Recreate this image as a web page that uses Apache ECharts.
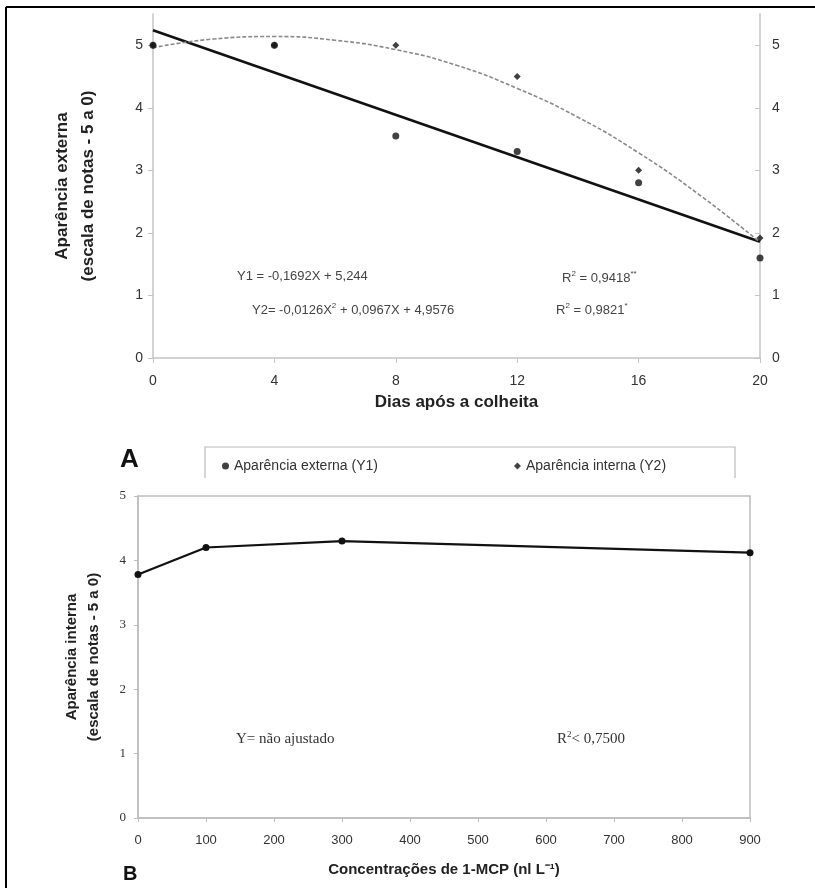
<!DOCTYPE html>
<html>
<head>
<meta charset="utf-8">
<script src="https://cdn.jsdelivr.net/npm/echarts@6/dist/echarts.min.js"></script>
<style>html,body{margin:0;padding:0;background:#fff;}#c{width:815px;height:888px;}</style>
</head>
<body>
<div id="c"></div>
<script>
// ---- Data (panel A) ----
const days = [0, 4, 8, 12, 16, 20];
const y1External = [5, 5, 3.55, 3.3, 2.8, 1.6];
const y2Internal = [5, 5, 5, 4.5, 3.0, 1.92];
const y1FitDays = [0, 20];
const y1FitValues = [5.24, 1.86];
const y2FitDays = [0, 2, 4, 6, 8, 10, 12, 14, 16, 18, 20];
const y2FitValues = [4.96, 5.10, 5.14, 5.08, 4.93, 4.68, 4.31, 3.85, 3.28, 2.61, 1.85];
const topYTicks = [0, 1, 2, 3, 4, 5];
// ---- Data (panel B) ----
const concentrations = [0, 100, 300, 900];
const internalAppearance = [3.78, 4.2, 4.3, 4.12];

const pair = (xs, ys) => xs.map((x, i) => [x, ys[i]]);
const sans = 'Liberation Sans, Arial, sans-serif';
const serif = 'Liberation Serif, Times New Roman, serif';
const narrow = 'Liberation Sans Narrow, Arial Narrow, Liberation Sans, sans-serif';

const chart = echarts.init(document.getElementById('c'), null, {renderer: 'canvas'});
const option = {
  animation: false,
  backgroundColor: '#fff',
  grid: [
    {left: 153, right: 55, top: 14, height: 344},
    {left: 138, right: 65, top: 496, height: 322, show: true, borderColor: '#bdbdbd', borderWidth: 1.5}
  ],
  legend: {
    left: 217, top: 454, itemGap: 136, itemWidth: 7, itemHeight: 7,
    textStyle: {fontFamily: sans, fontSize: 14, color: '#333'},
    data: [
      {name: 'Aparência externa (Y1)', icon: 'circle'},
      {name: 'Aparência interna (Y2)', icon: 'diamond'}
    ]
  },
  xAxis: [
    {
      gridIndex: 0, type: 'value', min: 0, max: 20, interval: 4,
      name: 'Dias após a colheita', nameLocation: 'middle', nameGap: 36,
      nameTextStyle: {fontFamily: sans, fontWeight: 'bold', fontSize: 17, color: '#222'},
      axisLine: {show: true, onZero: false, lineStyle: {color: '#c4c4c4', width: 1.5}},
      axisTick: {show: true, length: 5, lineStyle: {color: '#c4c4c4'}},
      axisLabel: {fontFamily: sans, fontSize: 14, color: '#333', margin: 16},
      splitLine: {show: false}
    },
    {
      gridIndex: 1, type: 'value', min: 0, max: 900, interval: 100,
      name: 'Concentrações de 1-MCP (nl L⁻¹)', nameLocation: 'middle', nameGap: 44,
      nameTextStyle: {fontFamily: narrow, fontWeight: 'bold', fontSize: 15, color: '#222'},
      axisLine: {show: true, onZero: false, lineStyle: {color: '#bdbdbd', width: 1.5}},
      axisTick: {show: true, length: 4, lineStyle: {color: '#bdbdbd'}},
      axisLabel: {fontFamily: narrow, fontSize: 13, color: '#333', margin: 16},
      splitLine: {show: false}
    }
  ],
  yAxis: [
    {
      gridIndex: 0, type: 'value', min: 0, max: 5.5, interval: 1,
      name: 'Aparência externa\n(escala de notas - 5 a 0)', nameLocation: 'middle', nameGap: 52,
      nameTextStyle: {fontFamily: sans, fontWeight: 'bold', fontSize: 17, color: '#222', lineHeight: 26},
      axisLine: {show: true, lineStyle: {color: '#c4c4c4', width: 1.5}},
      axisTick: {show: true, length: 5, lineStyle: {color: '#c4c4c4'}},
      axisLabel: {fontFamily: sans, fontSize: 14, color: '#333', margin: 10, showMaxLabel: false,
        formatter: v => topYTicks.includes(v) ? String(v) : ''},
      splitLine: {show: false}
    },
    {
      gridIndex: 0, type: 'value', min: 0, max: 5.5, interval: 1, position: 'right',
      axisLine: {show: true, lineStyle: {color: '#c4c4c4', width: 1.5}},
      axisTick: {show: true, length: 5, inside: true, lineStyle: {color: '#c4c4c4'}},
      axisLabel: {fontFamily: sans, fontSize: 14, color: '#333', margin: 12, showMaxLabel: false,
        formatter: v => topYTicks.includes(v) ? String(v) : ''},
      splitLine: {show: false}
    },
    {
      gridIndex: 1, type: 'value', min: 0, max: 5, interval: 1,
      name: 'Aparência interna\n(escala de notas - 5 a 0)', nameLocation: 'middle', nameGap: 33,
      nameTextStyle: {fontFamily: narrow, fontWeight: 'bold', fontSize: 15, color: '#222', lineHeight: 22},
      axisLine: {show: true, lineStyle: {color: '#bdbdbd', width: 1.5}},
      axisTick: {show: true, length: 4, lineStyle: {color: '#bdbdbd'}},
      axisLabel: {fontFamily: serif, fontSize: 13, color: '#333', margin: 12},
      splitLine: {show: false}
    }
  ],
  series: [
    {
      name: 'Y1 ajuste', type: 'line', xAxisIndex: 0, yAxisIndex: 0,
      data: pair(y1FitDays, y1FitValues), showSymbol: false, silent: true,
      lineStyle: {color: '#111', width: 2.6}, z: 2
    },
    {
      name: 'Y2 ajuste', type: 'line', xAxisIndex: 0, yAxisIndex: 0, smooth: true,
      data: pair(y2FitDays, y2FitValues), showSymbol: false, silent: true,
      lineStyle: {color: '#8a8a8a', width: 1.6, type: [4, 2]}, z: 2
    },
    {
      name: 'Aparência externa (Y1)', type: 'scatter', xAxisIndex: 0, yAxisIndex: 0,
      data: pair(days, y1External), symbol: 'circle', symbolSize: 7,
      itemStyle: {color: '#111'}, z: 4
    },
    {
      name: 'Aparência interna (Y2)', type: 'scatter', xAxisIndex: 0, yAxisIndex: 0,
      data: pair(days, y2Internal), symbol: 'diamond', symbolSize: 7,
      itemStyle: {color: '#111'}, z: 3
    },
    {
      name: 'Aparência interna B', type: 'line', xAxisIndex: 1, yAxisIndex: 2,
      data: pair(concentrations, internalAppearance), symbol: 'circle', symbolSize: 7,
      lineStyle: {color: '#111', width: 2.2}, itemStyle: {color: '#111'}
    }
  ],
  graphic: [
    {type: 'line', shape: {x1: 6, y1: 7, x2: 815, y2: 7}, style: {stroke: '#000', lineWidth: 2}},
    {type: 'line', shape: {x1: 6, y1: 7, x2: 6, y2: 888}, style: {stroke: '#000', lineWidth: 2}},
    {type: 'polyline', shape: {points: [[205, 478], [205, 447], [735, 447], [735, 478]]}, style: {stroke: '#bbb', lineWidth: 1.2, fill: null}},
    {type: 'text', left: 120, top: 447, style: {text: 'A', font: 'bold 26px ' + sans, fill: '#111'}},
    {type: 'text', left: 123, top: 864, style: {text: 'B', font: 'bold 20px ' + sans, fill: '#111'}},
    {type: 'text', left: 237, top: 270, style: {text: 'Y1 = -0,1692X + 5,244', font: '13px ' + sans, fill: '#444'}},
    {type: 'text', left: 252, top: 302, style: {text: '{n|Y2= -0,0126X}{s|2}{n| + 0,0967X + 4,9576}', font: '13px ' + sans, fill: '#444',
      rich: {n: {fontSize: 13, fontFamily: sans, fill: '#444'}, s: {fontSize: 8, fontFamily: sans, fill: '#444', verticalAlign: 'top', padding: [0, 0, 8, 0]}}}},
    {type: 'text', left: 562, top: 270, style: {text: '{n|R}{s|2}{n| = 0,9418}{s|**}', font: '13px ' + sans, fill: '#444',
      rich: {n: {fontSize: 13, fontFamily: sans, fill: '#444'}, s: {fontSize: 8, fontFamily: sans, fill: '#444', verticalAlign: 'top', padding: [0, 0, 8, 0]}}}},
    {type: 'text', left: 556, top: 302, style: {text: '{n|R}{s|2}{n| = 0,9821}{s|*}', font: '13px ' + sans, fill: '#444',
      rich: {n: {fontSize: 13, fontFamily: sans, fill: '#444'}, s: {fontSize: 8, fontFamily: sans, fill: '#444', verticalAlign: 'top', padding: [0, 0, 8, 0]}}}},
    {type: 'text', left: 236, top: 732, style: {text: 'Y= não ajustado', font: '15px ' + serif, fill: '#333'}},
    {type: 'text', left: 557, top: 730, style: {text: '{n|R}{s|2}{n|< 0,7500}', font: '15px ' + serif, fill: '#333',
      rich: {n: {fontSize: 15, fontFamily: serif, fill: '#333'}, s: {fontSize: 9, fontFamily: serif, fill: '#333', verticalAlign: 'top', padding: [0, 0, 9, 0]}}}}
  ]
};
chart.setOption(option);
</script>
</body>
</html>
